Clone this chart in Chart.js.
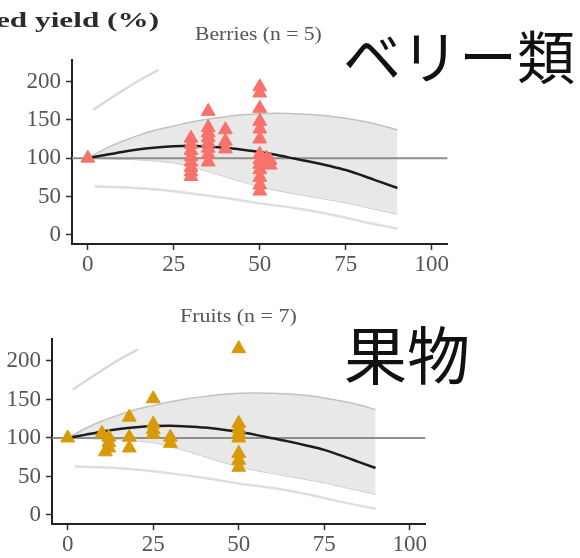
<!DOCTYPE html>
<html>
<head>
<meta charset="utf-8">
<script src="https://cdn.jsdelivr.net/npm/chart.js@4.4.0/dist/chart.umd.min.js"></script>
<style>
  body { margin: 0; background: #fff; width: 580px; height: 558px; overflow: hidden; position: relative; }
  canvas { position: absolute; left: 0; }
  .lbl { position: absolute; white-space: nowrap; line-height: 1; transform-origin: left top; }
  .serif { font-family: 'Liberation Serif', 'Times New Roman', serif; }
  .jp { font-family: 'Noto Sans CJK JP', sans-serif; color: #111; }
</style>
</head>
<body>
<canvas id="berries" width="580" height="290" style="top:0"></canvas>
<canvas id="fruits" width="580" height="268" style="top:290px"></canvas>

<div class="lbl serif" style="left:-4px; top:9px; font-size:22px; font-weight:bold; color:#2b2b2b; transform:scaleX(1.42)">ed yield (%)</div>
<div class="lbl serif" style="left:195px; top:25px; font-size:18px; color:#555; transform:scaleX(1.2)">Berries (n = 5)</div>
<div class="lbl serif" style="left:180px; top:307px; font-size:18px; color:#555; transform:scaleX(1.22)">Fruits (n = 7)</div>
<div class="lbl jp" style="left:343px; top:25px; font-size:58px">ベリー類</div>
<div class="lbl jp" style="left:344px; top:320px; font-size:63px">果物</div>

<script>
// model fit, shared by both panels
const fitX = [0, 5, 10, 15, 20, 25, 30, 35, 40, 45, 50, 55, 60, 65, 70, 75, 80, 85, 90];
const fitMean = [100, 104, 108, 111.5, 114, 115.5, 116, 115, 113.5, 111, 108, 104, 99.5, 95, 90, 84.5, 77, 69, 61];
const fitUpper = [100, 112, 122, 130, 137, 142, 147, 151, 154, 156.5, 158, 158.5, 158, 157, 155, 152, 148, 143, 137];
const fitLower = [100, 99.5, 99, 98, 96.5, 94, 89, 83, 76, 69, 63, 58, 54, 50, 46, 42, 37, 32, 27];

// prediction interval lines
const piUpperX = [1.5, 8, 14, 20.5];
const piUpperY = [163, 182, 199, 215];
const piLowerX = [2, 10, 20, 30, 40, 50, 60, 70, 80, 90];
const piLowerY = [63, 62, 59, 54, 48, 41, 35, 27, 17, 8];

const refY = 100;

// observations
const berryX = [0,
  30, 30, 30, 30, 30, 30, 30, 30,
  35, 35, 35, 35, 35, 35, 35, 35,
  40, 40, 40,
  50, 50, 50, 50, 50, 50, 50, 50, 50, 50, 50, 50, 50,
  52, 53, 53];
const berryY = [100,
  126, 118, 110, 102, 95, 88, 82, 76,
  161, 140, 133, 127, 120, 113, 105, 95,
  137, 122, 112,
  193, 185, 165, 148, 138, 125, 105, 98, 92, 85, 75, 65, 57,
  100, 97, 91];

const fruitX = [0, 10, 12, 12, 12, 11, 18, 18, 18, 25, 25, 25, 25, 30, 30,
  50, 50, 50, 50, 50, 50, 50, 50];
const fruitY = [100, 106, 101, 94, 87, 82, 127, 101, 87, 151, 118, 111, 105, 101, 93,
  216, 119, 112, 106, 100, 80, 71, 62];

const xTicks = [0, 25, 50, 75, 100];
const yTicks = [0, 50, 100, 150, 200];
const xMin = -4.6, xMax = 104.6;
const yMin = -12, yMax = 228;

const zip = (xs, ys) => xs.map((x, i) => ({ x: x, y: ys[i] }));

function makePanel(id, xs, ys, color, box) {
  new Chart(document.getElementById(id), {
    type: 'scatter',
    data: {
      datasets: [
        { data: zip(xs, ys), pointStyle: 'triangle', pointRadius: 8, borderWidth: 1,
          backgroundColor: color, borderColor: color, order: 0 },
        { data: zip(fitX, fitMean), showLine: true, pointRadius: 0, borderColor: '#1c1c1c',
          borderWidth: 2.5, cubicInterpolationMode: 'monotone', order: 1 },
        { data: [{ x: xMin, y: refY }, { x: xMax, y: refY }], showLine: true, pointRadius: 0,
          borderColor: '#8e8e8e', borderWidth: 2, order: 2 },
        { data: zip(piUpperX, piUpperY), showLine: true, pointRadius: 0, borderColor: '#dadada',
          borderWidth: 2.5, cubicInterpolationMode: 'monotone', order: 3 },
        { data: zip(piLowerX, piLowerY), showLine: true, pointRadius: 0, borderColor: '#dedede',
          borderWidth: 2.5, cubicInterpolationMode: 'monotone', order: 3 },
        { data: zip(fitX, fitUpper), showLine: true, pointRadius: 0, fill: '+1',
          backgroundColor: '#e8e8e8', borderColor: '#c2c2c2', borderWidth: 1.5,
          cubicInterpolationMode: 'monotone', order: 4 },
        { data: zip(fitX, fitLower), showLine: true, pointRadius: 0, borderColor: '#c8c8c8',
          borderWidth: 1.5, cubicInterpolationMode: 'monotone', order: 5 }
      ]
    },
    options: {
      responsive: false,
      animation: false,
      events: [],
      layout: { padding: { left: 0, top: box.top, right: box.right, bottom: 0 } },
      plugins: { legend: { display: false }, tooltip: { enabled: false } },
      scales: {
        x: {
          type: 'linear', min: xMin, max: xMax,
          afterBuildTicks: s => { s.ticks = xTicks.map(v => ({ value: v })); },
          afterFit: s => { s.height = box.xh; },
          grid: { display: true, drawOnChartArea: false, drawTicks: true, tickLength: 6, tickWidth: 1.5, tickColor: '#333' },
          border: { display: true, color: '#222', width: 2 },
          ticks: { font: { family: 'Liberation Serif', size: 23 }, color: '#555', padding: 1, maxRotation: 0, autoSkip: false }
        },
        y: {
          type: 'linear', min: yMin, max: yMax,
          afterBuildTicks: s => { s.ticks = yTicks.map(v => ({ value: v })); },
          afterFit: s => { s.width = box.yw; },
          grid: { display: true, drawOnChartArea: false, drawTicks: true, tickLength: 6, tickWidth: 1.5, tickColor: '#333' },
          border: { display: true, color: '#222', width: 2 },
          ticks: { font: { family: 'Liberation Serif', size: 23 }, color: '#555', padding: 5, autoSkip: false }
        }
      }
    }
  });
}

makePanel('berries', berryX, berryY, '#f8716b', { yw: 72, right: 132.4, top: 60, xh: 46 });
makePanel('fruits', fruitX, fruitY, '#d99a08', { yw: 52, right: 154.5, top: 49.4, xh: 33.8 });
</script>
</body>
</html>
